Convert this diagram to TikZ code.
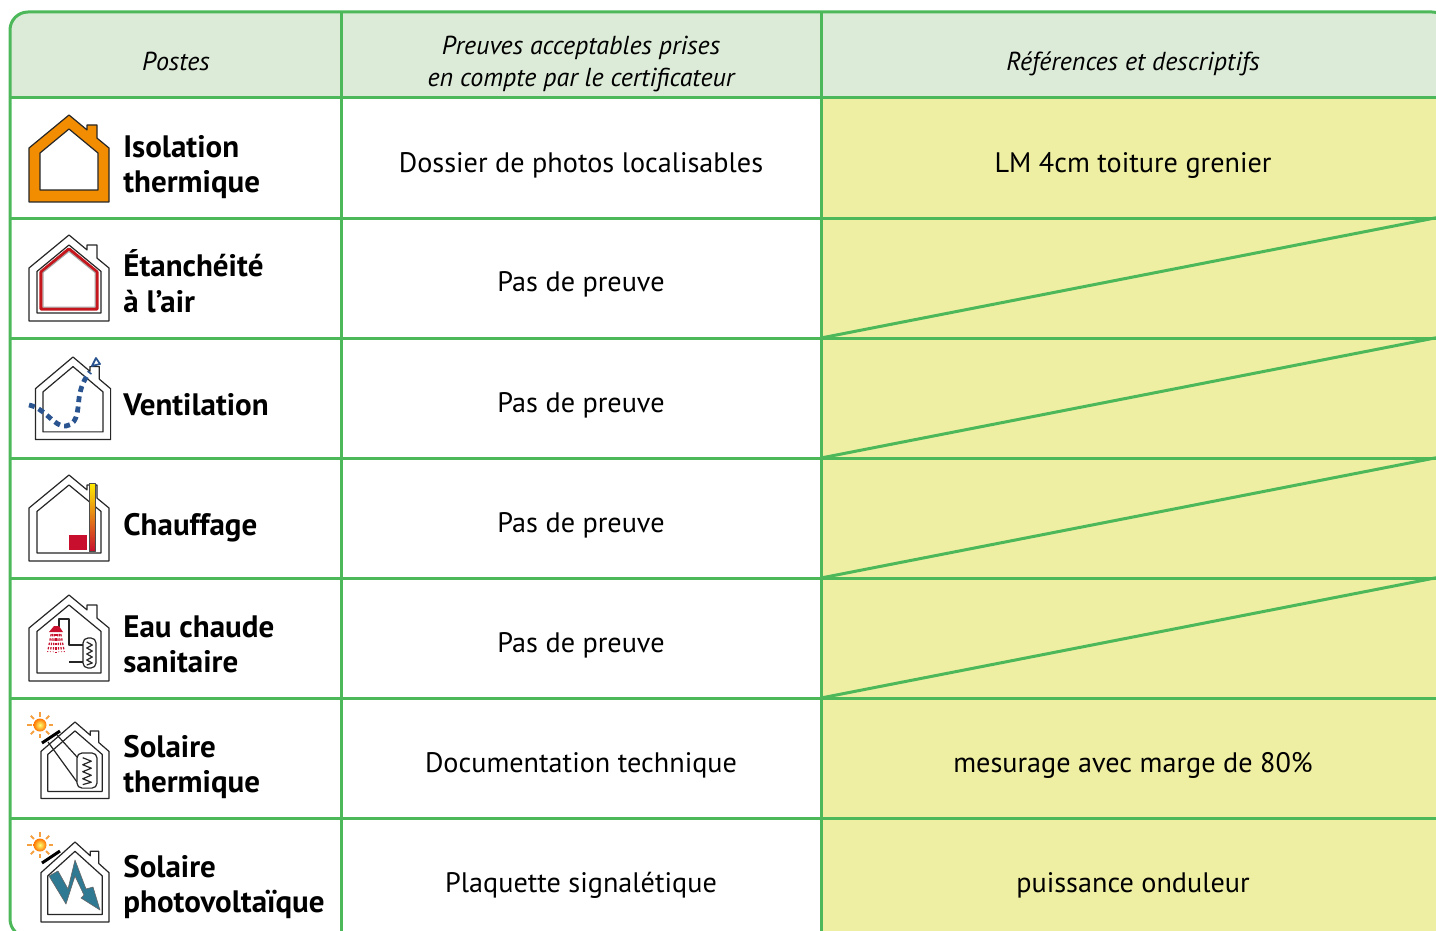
\documentclass[tikz,border=0pt]{standalone}
\usepackage{fontspec}
\setmainfont{PT Sans}
\usetikzlibrary{arrows.meta}
\definecolor{trait}{HTML}{4CB85A}
\definecolor{entete}{HTML}{DCEBD7}
\definecolor{jaune}{HTML}{EFEFA3}
\definecolor{isol}{HTML}{F28C00}
\definecolor{rougeair}{HTML}{C4161C}
\definecolor{bleuvent}{HTML}{2A5490}
\definecolor{rougech}{HTML}{C8102E}
\definecolor{bleupv}{HTML}{2F7993}
\definecolor{rayon}{HTML}{F5A040}
\tikzset{
	grille/.style={trait, line width=1.5pt},
	icone/.style={draw=black!85, line width=.6pt},
	entetetxt/.style={font=\fontsize{13}{16}\selectfont\itshape, align=center},
	poste/.style={font=\fontsize{15.5}{17.5}\selectfont\bfseries, align=left, inner sep=0pt},
	maison/.pic={
		\draw[icone, fill=white] (-40,86) -- (-40,33) -- (0,0) -- (18,14.9) -- (18,10) -- (28,10) -- (28,23.1) -- (40,33) -- (40,86) -- cycle;
		\draw[icone] (-32,78) -- (-32,36.4) -- (0,10) -- (32,36.4) -- (32,78) -- cycle;
	},
	ballon/.pic={
		\draw[icone, fill=white, rounded corners=2.5pt] (0,0) rectangle (14,30);
		\draw[icone] (4,4) -- (10,7) -- (4,10) -- (10,13) -- (4,16) -- (10,19) -- (4,22) -- (10,25) -- (4,27);
	},
	soleil/.pic={
		\foreach \a in {0,45,...,315} \draw[rayon, line width=1pt] (\a:8.5) -- (\a:13);
		\shade[inner color=yellow!55, outer color=orange!90!red] (0,0) circle (6.5);
	},
}
\begin{document}
\begin{tikzpicture}[x=.5pt, y=-.5pt, line join=round, font=\fontsize{14.1}{17.5}\selectfont]
	\useasboundingbox (0,0) rectangle (1436,931);
	% fonds
	\begin{scope}
		\clip[rounded corners=9pt] (10,12) rectangle (1450,937);
		\fill[entete] (10,12) rectangle (1450,98);
		\fill[jaune] (821,98) rectangle (1450,937);
	\end{scope}
	% grille
	\draw[grille, rounded corners=9pt] (10,12) rectangle (1450,937);
	\foreach \y in {98,218,...,818} \draw[grille] (10,\y) -- (1450,\y);
	\draw[grille] (341,12) -- (341,937) (821,12) -- (821,937);
	\foreach \y in {218,338,458,578} \draw[grille] (821,\y+120) -- (1440,\y-1);
	% entete
	\node[entetetxt, anchor=base] (postes) at (176,71) {Postes};
	\node[entetetxt, anchor=base] (preuves) at (581,87) {Preuves acceptables prises\\en compte par le certificateur};
	\node[entetetxt, anchor=base] (refs) at (1133,71) {Références et descriptifs};
	% lignes
	\foreach \i/\dy/\poste in {0/94/{Isolation\\thermique}, 1/94/{Étanchéité\\à l’air}, 2/77/Ventilation, 3/77/Chauffage, 4/94/{Eau chaude\\sanitaire}, 5/94/{Solaire\\thermique}, 6/94/{Solaire\\photovoltaïque}}
		\node[poste, anchor=base west] (poste\i) at (123,98+120*\i+\dy) {\poste};
	\foreach \i/\preuve/\refe in {0/Dossier de photos localisables/LM 4cm toiture grenier, 1/Pas de preuve/, 2/Pas de preuve/, 3/Pas de preuve/, 4/Pas de preuve/, 5/Documentation technique/mesurage avec marge de 80\%, 6/Plaquette signalétique/puissance onduleur}{
		\node[anchor=base] (preuve\i) at (581,172+120*\i) {\preuve};
		\node[anchor=base] (ref\i) at (1133,172+120*\i) {\refe};
	}
	% isolation
	\begin{scope}[shift={(69,115)}]
		\draw[icone, fill=isol] (-40,87) -- (-40,33) -- (0,0) -- (18,14.9) -- (18,10) -- (28,10) -- (28,23.1) -- (40,33) -- (40,87) -- cycle;
		\draw[icone, fill=white] (-29,75) -- (-29,38) -- (0,14) -- (29,38) -- (29,75) -- cycle;
	\end{scope}
	% etancheite
	\pic at (69,235) {maison};
	\begin{scope}[shift={(69,235)}]
		\draw[rougeair, line width=1.6pt] (-28,74) -- (-28,37) -- (0,14) -- (28,37) -- (28,74) -- cycle;
		\draw[black!35, line width=.5pt] (-26,72) -- (-26,37.5) -- (0,16.5) -- (26,37.5) -- (26,72) -- cycle;
	\end{scope}
	% ventilation
	\pic[xscale=.94, yscale=.96] at (73,357) {maison};
	\draw[bleuvent, line width=2.4pt, dash pattern=on 3pt off 2.2pt] (29,405) .. controls (45,408) and (55,428) .. (66,426) .. controls (80,424) and (77,405) .. (80,393) .. controls (82,384) and (85,378) .. (90,372);
	\draw[bleuvent, line width=.9pt] (96,358) -- (92,366) -- (100,364) -- cycle;
	% chauffage
	\pic at (69,475) {maison};
	\shade[top color=yellow!85!orange, middle color=orange, bottom color=rougech, draw=black!70, line width=.4pt] (89,483) rectangle (95,551);
	\fill[rougech] (69,535) rectangle (87,550);
	% eau chaude
	\pic at (69,595) {maison};
	\draw[icone] (59,627) -- (59,619) -- (69,619) -- (69,645) -- (83,645) (69,662) -- (83,662);
	\fill[rougech] (49,632) -- (54,626) -- (59,626) -- (63,632) -- cycle;
	\foreach \k in {-3,...,3} \draw[rougech, line width=.6pt, dash pattern=on 1.2pt off 1pt] (56+\k*1.6,634) -- (56+\k*2.8,652);
	\pic[xscale=.93] at (83,638) {ballon};
	% solaire thermique
	\pic[xscale=.85, yscale=.89] at (75,722) {maison};
	\draw[icone] (48,742) -- (77,782) (57,735) -- (77,757);
	\pic[xscale=1.43, yscale=1.17] at (77,753) {ballon};
	\draw[line width=1.5pt] (42,743) -- (60,731);
	\pic at (40,725) {soleil};
	% solaire photovoltaique
	\pic[xscale=.85, yscale=.93] at (75,842) {maison};
	\fill[bleupv, draw=black!60, line width=.3pt] (49,876) -- (58,871) -- (68,889) -- (75,860) -- (86,889) -- (93,887) -- (100,910) -- (81,898) -- (84,895) -- (75,876) -- (66,904) -- cycle;
	\draw[line width=1.5pt] (42,863) -- (60,851);
	\pic at (40,845) {soleil};
\end{tikzpicture}
\end{document}
